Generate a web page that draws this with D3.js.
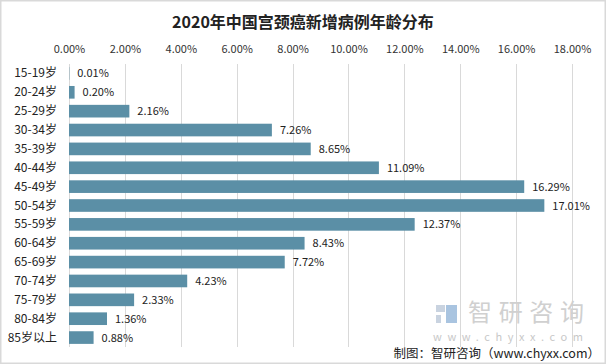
<!DOCTYPE html>
<html><head><meta charset="utf-8">
<script src="https://cdn.jsdelivr.net/npm/d3@7"></script>
<style>
body{margin:0;background:#fff;}
svg text{font-family:"Microsoft YaHei","Noto Sans CJK SC","Noto Sans",sans-serif;}
</style></head>
<body>
<svg id="c" width="606" height="364"></svg>
<script>
const categories = ["15-19岁","20-24岁","25-29岁","30-34岁","35-39岁","40-44岁","45-49岁","50-54岁","55-59岁","60-64岁","65-69岁","70-74岁","75-79岁","80-84岁","85岁以上"];
const values = [0.01,0.20,2.16,7.26,8.65,11.09,16.29,17.01,12.37,8.43,7.72,4.23,2.33,1.36,0.88];
const tickValues = [0,2,4,6,8,10,12,14,16,18];
const title = "2020年中国宫颈癌新增病例年龄分布";
const source = "制图：智研咨询（www.chyxx.com）";

const svg = d3.select("#c");
svg.append("rect").attr("x",0.75).attr("y",0.75).attr("width",604.5).attr("height",362.5)
  .attr("fill","#fff").attr("stroke","#d9d9d9").attr("stroke-width",1.5);

const x = d3.scaleLinear().domain([0,18]).range([69,572]);
const y = d3.scaleBand().domain(categories).range([64,347]).paddingInner(0.33).paddingOuter(0.165);

// gridlines
svg.append("g").selectAll("line").data(tickValues).join("line")
  .attr("x1",d=>Math.round(x(d))+0.5).attr("x2",d=>Math.round(x(d))+0.5)
  .attr("y1",64).attr("y2",347).attr("stroke","#d9d9d9").attr("stroke-width",1);

// top axis labels
const ax = svg.append("g").attr("transform","translate(0,53)")
  .call(d3.axisTop(x).tickValues(tickValues).tickSize(0).tickPadding(0).tickFormat(d=>d.toFixed(2)+"%"));
ax.select(".domain").remove();
ax.selectAll("text").attr("font-size",11).attr("fill","#333").style("font-family","\"Microsoft YaHei\",\"Noto Sans CJK SC\",sans-serif");

// title
svg.append("text").attr("x",303).attr("y",28).attr("text-anchor","middle")
  .attr("font-size",16).attr("font-weight","bold").attr("fill","#222").text(title);

// watermark
const wm = svg.append("g");
wm.append("rect").attr("x",436).attr("y",305).attr("width",9).attr("height",7).attr("fill","#c9d3e0");
wm.append("rect").attr("x",436).attr("y",315).attr("width",5).attr("height",8).attr("fill","#c9d3e0");
wm.append("rect").attr("x",446).attr("y",305).attr("width",11).attr("height",18).attr("fill","#a9c4e0");
wm.append("text").attr("x",468).attr("y",321).attr("font-size",24).attr("fill","#d0d0d0")
  .attr("textLength",116).attr("lengthAdjust","spacing").text("智研咨询");
wm.append("text").attr("x",433).attr("y",341).attr("font-size",11).attr("fill","#c8c8c8")
  .attr("textLength",150).attr("lengthAdjust","spacing").text("www.chyxx.com");

// bars
svg.append("g").selectAll("rect").data(categories).join("rect")
  .attr("x",x(0)).attr("y",d=>y(d)).attr("height",y.bandwidth())
  .attr("width",(d,i)=>Math.max(0,x(values[i])-x(0))).attr("fill","#5b8fa6");

// value labels
svg.append("g").selectAll("text").data(categories).join("text")
  .attr("x",(d,i)=>x(values[i])+8).attr("y",d=>y(d)+y.bandwidth()/2+4)
  .attr("font-size",11).attr("fill","#222").text((d,i)=>values[i].toFixed(2)+"%");

// category labels
svg.append("g").selectAll("text").data(categories).join("text")
  .attr("x",57).attr("y",d=>y(d)+y.bandwidth()/2+4).attr("text-anchor","end")
  .attr("font-size",12).attr("fill","#222").text(d=>d);

// source
svg.append("text").attr("x",600).attr("y",358).attr("text-anchor","end")
  .attr("font-size",12.5).attr("fill","#222").text(source);
</script>
</body></html>
